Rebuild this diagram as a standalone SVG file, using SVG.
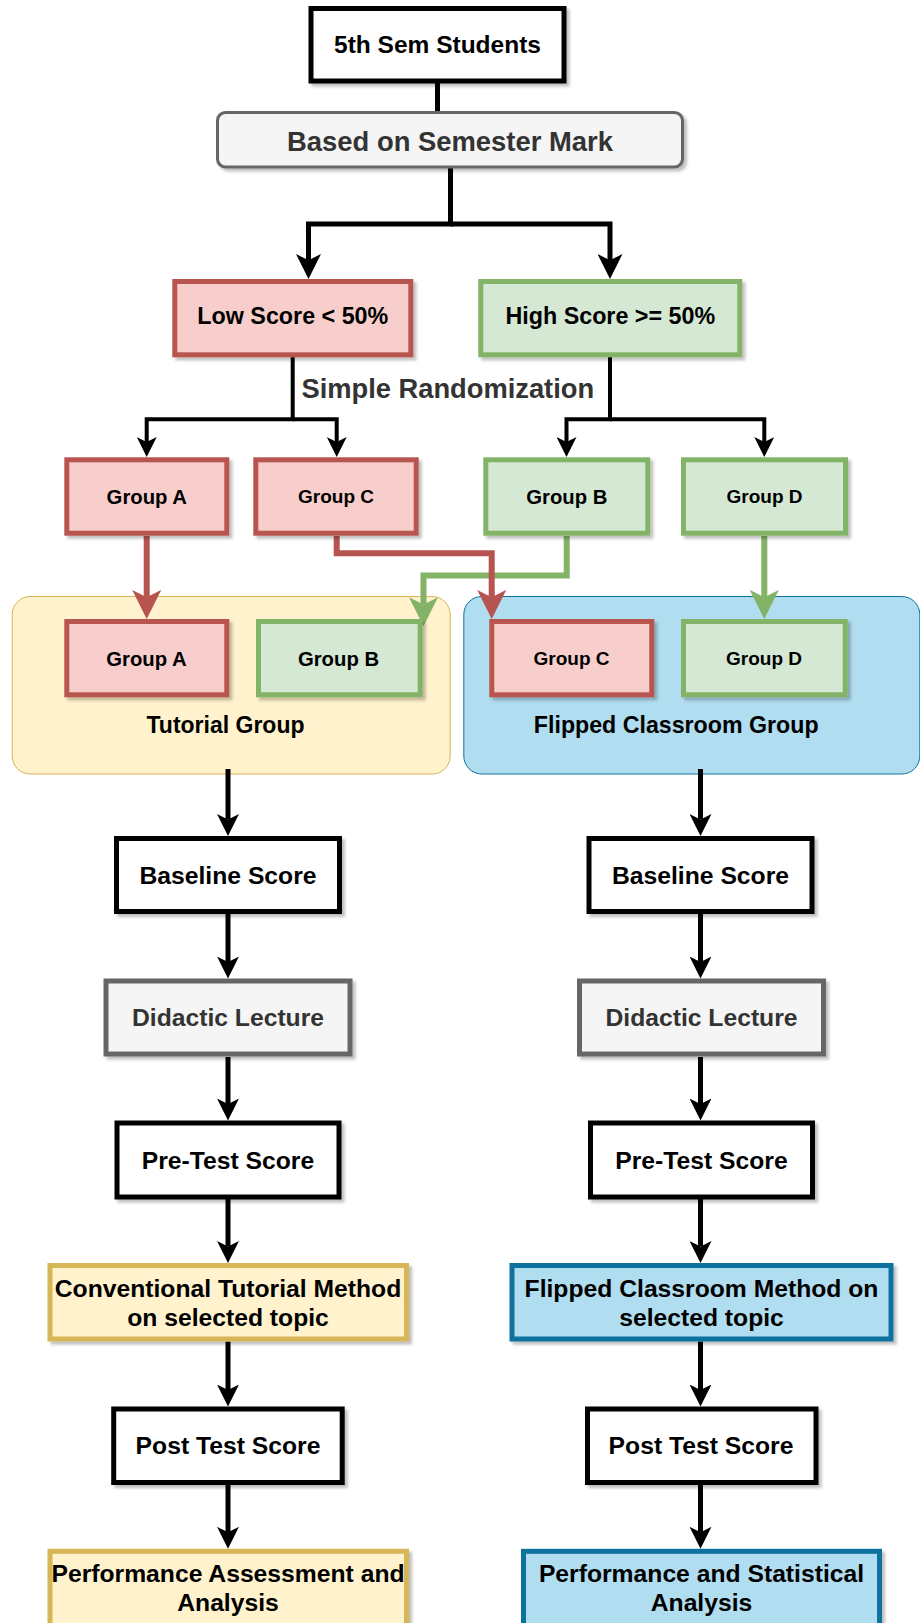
<svg xmlns="http://www.w3.org/2000/svg" width="920" height="1623" viewBox="0 0 920 1623">
<defs>
<style>
.t{font-family:"Liberation Sans",Arial,sans-serif;font-weight:bold;text-anchor:middle;fill:#000}
.g3{fill:#333333}
.col{font-size:24.7px}
.bk{fill:#ffffff;stroke:#000000;stroke-width:5}
.gy{fill:#f5f5f5;stroke:#666666;stroke-width:5}
.rd{fill:#f8cecc;stroke:#b85450;stroke-width:5}
.gn{fill:#d5e8d4;stroke:#82b366;stroke-width:5}
.yl{fill:#fff2cc;stroke:#d6b656;stroke-width:5}
.bl{fill:#b1ddf0;stroke:#10739e;stroke-width:5}
.sh{filter:url(#shadow)}
.c{fill:none;stroke-linejoin:miter}
</style>
<filter id="shadow" x="-10%" y="-10%" width="130%" height="140%">
<feDropShadow dx="3" dy="3" stdDeviation="1.6" flood-color="#000" flood-opacity="0.25"/>
</filter>
<marker id="aTop" markerUnits="userSpaceOnUse" markerWidth="25" markerHeight="25" viewBox="0 0 25 25" refX="6.25" refY="12.5" orient="auto"><path d="M0,0 L25,12.5 L0,25 L6.25,12.5 z" fill="#000"/></marker>
<marker id="aSm" markerUnits="userSpaceOnUse" markerWidth="20" markerHeight="20" viewBox="0 0 20 20" refX="5" refY="10" orient="auto"><path d="M0,0 L20,10 L0,20 L5,10 z" fill="#000"/></marker>
<marker id="aCol" markerUnits="userSpaceOnUse" markerWidth="22" markerHeight="22" viewBox="0 0 22 22" refX="5.5" refY="11" orient="auto"><path d="M0,0 L22,11 L0,22 L5.5,11 z" fill="#000"/></marker>
<marker id="aRed" markerUnits="userSpaceOnUse" markerWidth="29" markerHeight="29" viewBox="0 0 29 29" refX="7.25" refY="14.5" orient="auto"><path d="M0,0 L29,14.5 L0,29 L7.25,14.5 z" fill="#b85450"/></marker>
<marker id="aGreen" markerUnits="userSpaceOnUse" markerWidth="29" markerHeight="29" viewBox="0 0 29 29" refX="7.25" refY="14.5" orient="auto"><path d="M0,0 L29,14.5 L0,29 L7.25,14.5 z" fill="#82b366"/></marker>
</defs>
<rect width="920" height="1623" fill="#ffffff"/>

<!-- containers -->
<g id="tutorial-group">
<rect x="12.2" y="596.5" width="438" height="177.5" rx="18" fill="#fff2cc" stroke="#d6b656" stroke-width="1"/>
<text class="t" x="225.5" y="732.5" font-size="23">Tutorial Group</text>
</g>
<g id="flipped-group">
<rect x="463.8" y="596.5" width="456" height="177.5" rx="18" fill="#b1ddf0" stroke="#10739e" stroke-width="1"/>
<text class="t" x="676.2" y="732.5" font-size="23.2">Flipped Classroom Group</text>
</g>

<!-- connectors -->
<g id="connectors" class="c">
<path d="M437.5,83 V112" stroke="#000" stroke-width="5"/>
<path d="M450.5,168 V224 H308.5 V260.25" stroke="#000" stroke-width="5" marker-end="url(#aTop)"/>
<path d="M450.5,224 H610 V260.25" stroke="#000" stroke-width="5" marker-end="url(#aTop)"/>
<path d="M292.7,357 V419.3 H146.7 V442" stroke="#000" stroke-width="4" marker-end="url(#aSm)"/>
<path d="M292.7,419.3 H336.7 V442" stroke="#000" stroke-width="4" marker-end="url(#aSm)"/>
<path d="M610,357 V419.3 H566.5 V442" stroke="#000" stroke-width="4" marker-end="url(#aSm)"/>
<path d="M610,419.3 H764.3 V442" stroke="#000" stroke-width="4" marker-end="url(#aSm)"/>
<path d="M566.7,536 V575.5 H423.5 V604.5" stroke="#82b366" stroke-width="6" marker-end="url(#aGreen)"/>
<path d="M764.3,536 V597.25" stroke="#82b366" stroke-width="6" marker-end="url(#aGreen)"/>
<path d="M146.7,536 V597.25" stroke="#b85450" stroke-width="6" marker-end="url(#aRed)"/>
<path d="M336.7,536 V553.3 H491.7 V597.25" stroke="#b85450" stroke-width="6" marker-end="url(#aRed)"/>
<path d="M228,769 V819.5" stroke="#000" stroke-width="5" marker-end="url(#aCol)"/>
<path d="M228,914 V962" stroke="#000" stroke-width="5" marker-end="url(#aCol)"/>
<path d="M228,1057 V1104" stroke="#000" stroke-width="5" marker-end="url(#aCol)"/>
<path d="M228,1199 V1246.5" stroke="#000" stroke-width="5" marker-end="url(#aCol)"/>
<path d="M228,1341.5 V1390" stroke="#000" stroke-width="5" marker-end="url(#aCol)"/>
<path d="M228,1484.5 V1532.3" stroke="#000" stroke-width="5" marker-end="url(#aCol)"/>
<path d="M700.5,769 V819.5" stroke="#000" stroke-width="5" marker-end="url(#aCol)"/>
<path d="M700.5,914 V962" stroke="#000" stroke-width="5" marker-end="url(#aCol)"/>
<path d="M700.5,1057 V1104" stroke="#000" stroke-width="5" marker-end="url(#aCol)"/>
<path d="M700.5,1199 V1246.5" stroke="#000" stroke-width="5" marker-end="url(#aCol)"/>
<path d="M700.5,1341.5 V1390" stroke="#000" stroke-width="5" marker-end="url(#aCol)"/>
<path d="M700.5,1484.5 V1532.3" stroke="#000" stroke-width="5" marker-end="url(#aCol)"/>
</g>

<!-- top nodes -->
<g id="students">
<rect class="bk sh" x="311" y="8.5" width="253" height="72.5"/>
<text class="t" x="437.5" y="52.8" font-size="24.5">5th Sem Students</text>
</g>
<g id="semester-mark">
<rect class="sh" x="217.5" y="112.5" width="465" height="54.5" rx="8" fill="#f5f5f5" stroke="#666666" stroke-width="3"/>
<text class="t g3" x="450" y="150.5" font-size="27.4">Based on Semester Mark</text>
</g>
<g id="low-score">
<rect class="rd sh" x="174.8" y="281.5" width="236" height="73.3"/>
<text class="t" x="292.8" y="324" font-size="23.3">Low Score &lt; 50%</text>
</g>
<g id="high-score">
<rect class="gn sh" x="480.8" y="281.5" width="259" height="73.3"/>
<text class="t" x="610.3" y="324" font-size="23.3">High Score &gt;= 50%</text>
</g>
<g id="randomization-label">
<text class="t g3" x="447.8" y="398" font-size="27.3">Simple Randomization</text>
</g>

<!-- group nodes (upper) -->
<g id="group-a-top">
<rect class="rd sh" x="66.8" y="459.8" width="160" height="73.4"/>
<text class="t" x="146.8" y="504.3" font-size="20.3">Group A</text>
</g>
<g id="group-c-top">
<rect class="rd sh" x="255.8" y="459.8" width="160.4" height="73.4"/>
<text class="t" x="336" y="502.7" font-size="19">Group C</text>
</g>
<g id="group-b-top">
<rect class="gn sh" x="485.8" y="459.8" width="162" height="73.4"/>
<text class="t" x="566.8" y="504.3" font-size="20.3">Group B</text>
</g>
<g id="group-d-top">
<rect class="gn sh" x="683.5" y="459.8" width="162" height="73.4"/>
<text class="t" x="764.5" y="502.7" font-size="19">Group D</text>
</g>

<!-- group nodes (lower) -->
<g id="group-a-bottom">
<rect class="rd sh" x="66.8" y="621.5" width="160" height="73.3"/>
<text class="t" x="146.5" y="666" font-size="20.3">Group A</text>
</g>
<g id="group-b-bottom">
<rect class="gn sh" x="258.5" y="621.5" width="161.7" height="73.3"/>
<text class="t" x="338.5" y="666" font-size="20.3">Group B</text>
</g>
<g id="group-c-bottom">
<rect class="rd sh" x="491.8" y="621.5" width="160" height="73.3"/>
<text class="t" x="571.5" y="665" font-size="19">Group C</text>
</g>
<g id="group-d-bottom">
<rect class="gn sh" x="683.5" y="621.5" width="161.7" height="73.3"/>
<text class="t" x="764" y="665" font-size="19">Group D</text>
</g>

<!-- left column -->
<g id="baseline-left">
<rect class="bk sh" x="116.5" y="838.5" width="223" height="73"/>
<text class="t col" x="228" y="883.8">Baseline Score</text>
</g>
<g id="didactic-left">
<rect class="gy sh" x="106" y="981" width="244" height="73"/>
<text class="t g3 col" x="228" y="1026.2">Didactic Lecture</text>
</g>
<g id="pretest-left">
<rect class="bk sh" x="117" y="1123" width="222" height="74"/>
<text class="t col" x="228" y="1168.6">Pre-Test Score</text>
</g>
<g id="conventional-method">
<rect class="yl sh" x="50" y="1265.5" width="356.5" height="73.5"/>
<text class="t col" x="228" y="1297.2">Conventional Tutorial Method</text>
<text class="t col" x="228" y="1326.2">on selected topic</text>
</g>
<g id="posttest-left">
<rect class="bk sh" x="113.7" y="1409" width="228.5" height="73.5"/>
<text class="t col" x="228" y="1454.2">Post Test Score</text>
</g>
<g id="performance-left">
<rect class="yl sh" x="50" y="1551.3" width="356.5" height="75"/>
<text class="t col" x="228" y="1582">Performance Assessment and</text>
<text class="t col" x="228" y="1611">Analysis</text>
</g>

<!-- right column -->
<g id="baseline-right">
<rect class="bk sh" x="589" y="838.5" width="223" height="73"/>
<text class="t col" x="700.5" y="883.8">Baseline Score</text>
</g>
<g id="didactic-right">
<rect class="gy sh" x="579.5" y="981" width="244" height="73"/>
<text class="t g3 col" x="701.5" y="1026.2">Didactic Lecture</text>
</g>
<g id="pretest-right">
<rect class="bk sh" x="590.5" y="1123" width="222" height="74"/>
<text class="t col" x="701.5" y="1168.6">Pre-Test Score</text>
</g>
<g id="flipped-method">
<rect class="bl sh" x="512" y="1265.5" width="379" height="73.5"/>
<text class="t col" x="701.5" y="1297.2">Flipped Classroom Method on</text>
<text class="t col" x="701.5" y="1326.2">selected topic</text>
</g>
<g id="posttest-right">
<rect class="bk sh" x="587.5" y="1409" width="228.5" height="73.5"/>
<text class="t col" x="701" y="1454.2">Post Test Score</text>
</g>
<g id="performance-right">
<rect class="bl sh" x="523.5" y="1551.3" width="356" height="75"/>
<text class="t col" x="701.5" y="1582">Performance and Statistical</text>
<text class="t col" x="701.5" y="1611">Analysis</text>
</g>
</svg>
